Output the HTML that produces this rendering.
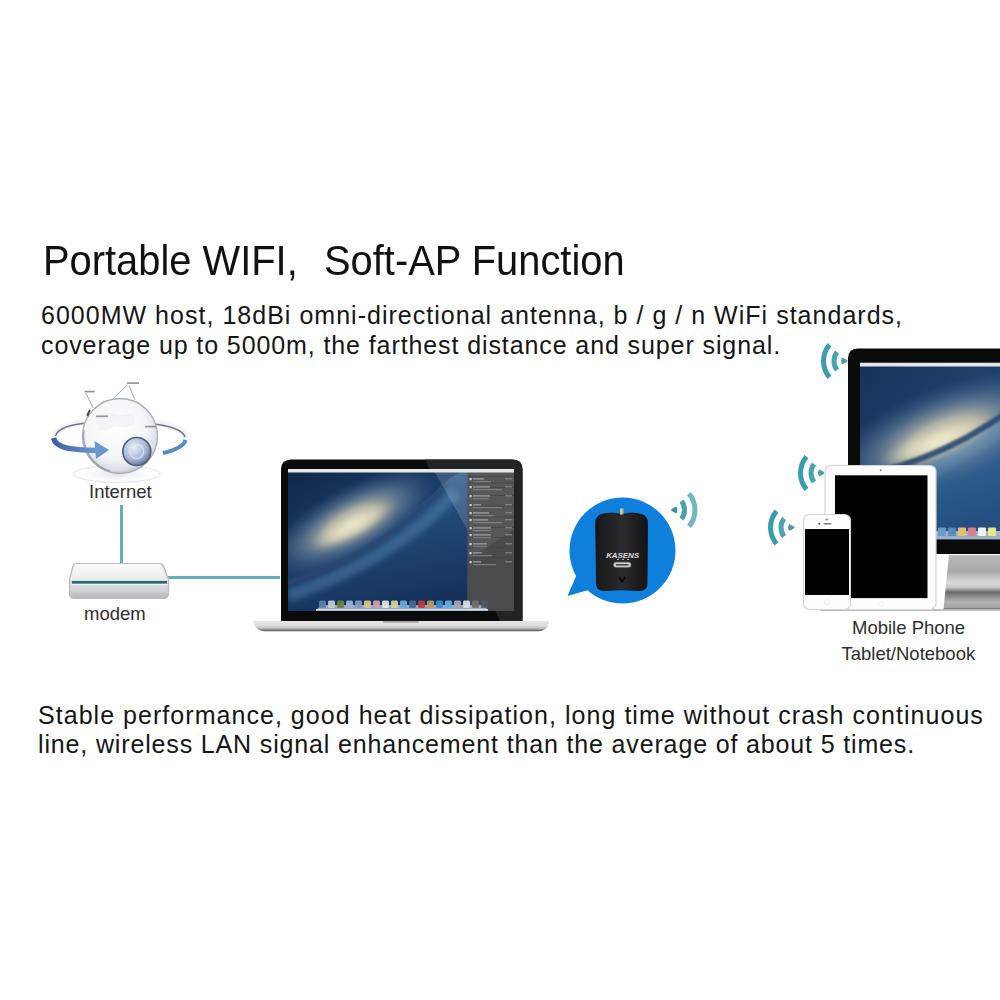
<!DOCTYPE html>
<html><head><meta charset="utf-8">
<style>
html,body{margin:0;padding:0;background:#fff;}
body{width:1000px;height:1000px;position:relative;overflow:hidden;font-family:"Liberation Sans",sans-serif;}
.a{position:absolute;white-space:pre;}
.title{font-size:43px;color:#111;line-height:1;transform:scaleX(0.927);transform-origin:0 0;}
.body{font-size:25px;color:#151515;letter-spacing:0.95px;line-height:1;}
.lab{font-size:18.5px;color:#2e2e2e;line-height:1;}
.line{position:absolute;background:#62aebb;}
svg{position:absolute;overflow:visible;}
</style></head>
<body>
<div class="a title" style="left:43px;top:239px">Portable WIFI,</div>
<div class="a title" style="left:324px;top:239px">Soft-AP Function</div>
<div class="a body" style="left:41px;top:303px;letter-spacing:1.02px">6000MW host, 18dBi omni-directional antenna, b / g / n WiFi standards,</div>
<div class="a body" style="left:41px;top:333px;letter-spacing:0.9px">coverage up to 5000m, the farthest distance and super signal.</div>
<div class="a body" style="left:38px;top:703px;letter-spacing:1.04px">Stable performance, good heat dissipation, long time without crash continuous</div>
<div class="a body" style="left:38px;top:732px;letter-spacing:0.85px">line, wireless LAN signal enhancement than the average of about 5 times.</div>

<!-- lines -->
<div class="line" style="left:120px;top:505px;width:3px;height:60px"></div>
<div class="line" style="left:168px;top:576px;width:112px;height:3px"></div>

<!-- GLOBE -->
<svg style="left:0;top:0" width="1000" height="1000" viewBox="0 0 1000 1000">
  <defs>
    <radialGradient id="gsph" cx="0.45" cy="0.4" r="0.62">
      <stop offset="0" stop-color="#ffffff"/>
      <stop offset="0.65" stop-color="#f3f5f8"/>
      <stop offset="0.9" stop-color="#dadee5"/>
      <stop offset="1" stop-color="#b9bfc8"/>
    </radialGradient>
    <linearGradient id="gring" x1="0" y1="0" x2="1" y2="0">
      <stop offset="0" stop-color="#3f5f9e"/>
      <stop offset="0.6" stop-color="#5c83bd"/>
      <stop offset="1" stop-color="#6f9acc"/>
    </linearGradient>
    <radialGradient id="ge" cx="0.4" cy="0.35" r="0.7">
      <stop offset="0" stop-color="#e8eef8"/>
      <stop offset="0.6" stop-color="#a9bad6"/>
      <stop offset="1" stop-color="#5d7096"/>
    </radialGradient>
    <radialGradient id="gshad" cx="0.5" cy="0.5" r="0.5">
      <stop offset="0" stop-color="#dfe3e8"/>
      <stop offset="1" stop-color="#ffffff" stop-opacity="0"/>
    </radialGradient>
  </defs>
  <ellipse cx="117" cy="474" rx="46" ry="10" fill="url(#gshad)"/>
  <ellipse cx="117" cy="474" rx="43" ry="8.5" fill="none" stroke="#e8ebef" stroke-width="1.5"/>
  <!-- ring back -->
  <path d="M54 439 C 56 428, 72 423, 90 422" fill="none" stroke="#f1f3f6" stroke-width="6"/>
  <path d="M55.5 436 C 58 428, 72 424, 90 423" fill="none" stroke="#5c636c" stroke-width="1.6" opacity="0.85"/>
  <path d="M152 423 C 168 424, 184 429, 186 439" fill="none" stroke="#f1f3f6" stroke-width="6"/>
  <path d="M152 424 C 168 425, 183 430, 185 437" fill="none" stroke="#5c636c" stroke-width="1.6" opacity="0.85"/>
  <circle cx="120" cy="436" r="37.5" fill="url(#gsph)" stroke="#a9aeb5" stroke-width="1.3"/>
  <path d="M84 430 A37 37 0 0 0 110 471" fill="none" stroke="#6a717b" stroke-width="1.2" opacity="0.6"/>
  <path d="M95 418 q10 -8 20 -4 q8 3 16 -1 q6 6 2 12 q-9 4 -18 1 q-8 6 -16 4 z" fill="#e9ecf1" opacity="0.45"/>
  <!-- antenna lines -->
  <path d="M86 393 L93 408" stroke="#9a9ea4" stroke-width="0.9" fill="none"/>
  <path d="M114 397.5 L127.5 385 M129 385.5 L135 400" stroke="#9a9ea4" stroke-width="0.9" fill="none"/>
  <rect x="84.5" y="390.8" width="10" height="1.6" fill="#6f7378" opacity="0.8"/>
  <rect x="127" y="382.3" width="12" height="1.6" fill="#6f7378" opacity="0.8"/>
  <rect x="96" y="415.5" width="12" height="1.6" fill="#6f7378" opacity="0.75"/>
  <rect x="145" y="425.8" width="11" height="1.6" fill="#6f7378" opacity="0.75"/>
  <path d="M90 410 Q 88 413 87.5 416" stroke="#45494f" stroke-width="2" fill="none"/>
  <!-- ring front -->
  <path d="M53.5 438 C 56 449, 74 450, 97 450.5" fill="none" stroke="url(#gring)" stroke-width="5.5"/>
  <path d="M94.5 441 L109 450 L96 459 z" fill="#6d98cc"/>
  <path d="M163 453 C 176 450, 184 446, 185.5 440" fill="none" stroke="#5b89c0" stroke-width="4"/>
  <circle cx="136.8" cy="451.5" r="14" fill="url(#ge)" stroke="#4f5f88" stroke-width="1.6"/>
  <circle cx="136.8" cy="451.5" r="7" fill="none" stroke="#dfe6f2" stroke-width="1.4" opacity="0.8"/>
  </svg>

<!-- DEVICES -->
<svg style="left:0;top:0" width="1000" height="1000" viewBox="0 0 1000 1000">
  <defs>
    <linearGradient id="mtop" x1="0" y1="0" x2="0" y2="1">
      <stop offset="0" stop-color="#fbfbfb"/><stop offset="1" stop-color="#e9eaec"/>
    </linearGradient>
    <linearGradient id="mfront" x1="0" y1="0" x2="0" y2="1">
      <stop offset="0" stop-color="#e4e5e8"/><stop offset="0.7" stop-color="#d7d8dc"/><stop offset="1" stop-color="#b5b6ba"/>
    </linearGradient>
    <linearGradient id="lbase" x1="0" y1="0" x2="0" y2="1">
      <stop offset="0" stop-color="#e6e6e6"/><stop offset="0.45" stop-color="#dcdcdc"/><stop offset="0.72" stop-color="#bdbdbd"/><stop offset="0.88" stop-color="#777"/><stop offset="1" stop-color="#5c5c5c"/>
    </linearGradient>
    <linearGradient id="wallbg" x1="0" y1="0" x2="1" y2="1">
      <stop offset="0" stop-color="#102848"/><stop offset="0.45" stop-color="#1b406e"/><stop offset="1" stop-color="#22497a"/>
    </linearGradient>
    <radialGradient id="galaxy" cx="0.5" cy="0.5" r="0.5">
      <stop offset="0" stop-color="#dcd8c0"/><stop offset="0.3" stop-color="#bdbcaa" stop-opacity="0.9"/><stop offset="0.62" stop-color="#6f88a0" stop-opacity="0.55"/><stop offset="1" stop-color="#3d5b80" stop-opacity="0"/>
    </radialGradient>
    <linearGradient id="sea" x1="0" y1="0" x2="0.3" y2="1">
      <stop offset="0" stop-color="#416e9c"/><stop offset="0.35" stop-color="#24507f"/><stop offset="1" stop-color="#16325c"/>
    </linearGradient>
    <linearGradient id="stand" x1="0" y1="0" x2="0" y2="1">
      <stop offset="0" stop-color="#b8b8b8"/><stop offset="0.3" stop-color="#a9a9aa"/><stop offset="0.52" stop-color="#d9d9da"/><stop offset="0.6" stop-color="#c6c6c6"/><stop offset="0.69" stop-color="#6a6a6b"/><stop offset="0.77" stop-color="#8c8c8c"/><stop offset="0.87" stop-color="#b3b3b3"/><stop offset="0.97" stop-color="#a5a5a5"/><stop offset="1" stop-color="#6a6a6a"/>
    </linearGradient>
    <linearGradient id="adapter" x1="0" y1="0" x2="1" y2="0">
      <stop offset="0" stop-color="#18181a"/><stop offset="0.5" stop-color="#2b2b2e"/><stop offset="1" stop-color="#151517"/>
    </linearGradient>
    <radialGradient id="core" cx="0.5" cy="0.5" r="0.5">
      <stop offset="0" stop-color="#f4eed2"/><stop offset="0.5" stop-color="#e3dcbc" stop-opacity="0.8"/><stop offset="1" stop-color="#c8c3a8" stop-opacity="0"/>
    </radialGradient>
    <filter id="blur2" x="-30%" y="-30%" width="160%" height="160%"><feGaussianBlur stdDeviation="3"/></filter>
    <filter id="blur1" x="-20%" y="-20%" width="140%" height="140%"><feGaussianBlur stdDeviation="1.2"/></filter>
    <clipPath id="lscr"><rect x="288" y="469" width="226" height="142"/></clipPath>
    <linearGradient id="sea2" x1="0" y1="0" x2="0.3" y2="1">
      <stop offset="0" stop-color="#5282b2"/><stop offset="0.4" stop-color="#346595"/><stop offset="1" stop-color="#244f80"/>
    </linearGradient>
    <linearGradient id="wallbg2" x1="0" y1="0" x2="1" y2="1">
      <stop offset="0" stop-color="#163259"/><stop offset="0.5" stop-color="#1e426f"/><stop offset="1" stop-color="#25507f"/>
    </linearGradient>
    <clipPath id="iscr"><rect x="860" y="362.5" width="140" height="177"/></clipPath>
    <symbol id="wifi" overflow="visible">
      <path d="M-19.5 -16.4 A25.5 25.5 0 0 0 -19.5 16.4" fill="none" stroke="#3b9dab" stroke-width="5"/>
      <path d="M-12 -9 A15 15 0 0 0 -12 9" fill="none" stroke="#4aa2af" stroke-width="5"/>
      <path d="M-6.5 -2.6 Q-2 -0.5 -2 0 Q-2 0.5 -6.5 2.6 Q-8.2 0 -6.5 -2.6z" fill="#4a9ca6" stroke="#4a9ca6" stroke-width="1.2" stroke-linejoin="round"/>
    </symbol>
    <symbol id="wifi2" overflow="visible">
      <path d="M-19.5 -16.4 A25.5 25.5 0 0 0 -19.5 16.4" fill="none" stroke="#72b6bf" stroke-width="5"/>
      <path d="M-12 -9 A15 15 0 0 0 -12 9" fill="none" stroke="#4c9fac" stroke-width="5"/>
      <path d="M-6.5 -2.6 Q-2 -0.5 -2 0 Q-2 0.5 -6.5 2.6 Q-8.2 0 -6.5 -2.6z" fill="#3e8f99" stroke="#3e8f99" stroke-width="1.2" stroke-linejoin="round"/>
    </symbol>
  </defs>

  <!-- MODEM -->
  <path d="M75 563.5 L160 563.5 Q162.5 563.5 163.5 566 L168.5 579 L168.5 593 Q168.5 598.5 163 598.5 L75 598.5 Q69.5 598.5 69.5 593 L69.5 579 L73 566 Q73.5 563.5 75 563.5Z" fill="url(#mfront)" stroke="#b9babd" stroke-width="1.2"/>
  <path d="M75 564 L160 564 L168 580 L70 580 Z" fill="url(#mtop)"/>
  <rect x="72" y="581" width="95" height="2.6" fill="#2a6f70"/>
  <rect x="71" y="584" width="97" height="1" fill="#f0f2f2"/>

  <!-- LAPTOP -->
  <path d="M253 621 L549 621 L548.5 624.5 Q547 630 539 631.3 L264 631.3 Q256 630 254 624.5 Z" fill="url(#lbase)"/>
  <rect x="383" y="621" width="36" height="1.8" rx="0.8" fill="#a5a5a5"/>
  <path d="M291 459.5 L512.5 459.5 Q522.5 459.5 522.5 469.5 L522.5 621 L281 621 L281 469.5 Q281 459.5 291 459.5Z" fill="#0b0b0b"/>
  <path d="M425 459.5 L512.5 459.5 Q522.5 459.5 522.5 469.5 L522.5 621 L500 621 Z" fill="#262628" opacity="0.9"/>
  <g clip-path="url(#lscr)">
    <rect x="288" y="469" width="226" height="142" fill="url(#wallbg)"/>
    <path d="M288 611 L288 578 Q348 558 394 526 Q425 503 450 478 L467 469 L514 469 L514 611Z" fill="url(#sea)"/>
    <ellipse cx="352" cy="522" rx="95" ry="36" transform="rotate(-28 352 522)" fill="url(#galaxy)"/>
    <ellipse cx="352" cy="526" rx="46" ry="11" transform="rotate(-28 352 526)" fill="url(#core)" filter="url(#blur2)"/>
    <path d="M288 596 Q352 574 404 538 Q436 514 456 492" fill="none" stroke="#5584b2" stroke-width="12" opacity="0.5" filter="url(#blur2)"/>
    <path d="M288 583 Q350 562 396 529 Q426 506 447 483" fill="none" stroke="#2a4670" stroke-width="5" opacity="0.9" filter="url(#blur1)"/>
    <path d="M433 469 L467.5 469 L467.5 530 Z" fill="#ffffff" opacity="0.16"/>
    <rect x="467.5" y="472" width="46.5" height="139" fill="#56575b"/>
    <path d="M467.5 560 L514 530 L514 611 L467.5 611Z" fill="#4a4b4f"/>
    <rect x="468" y="476" width="46" height="0.9" fill="#46474b"/>
    <rect x="468" y="482.5" width="46" height="0.9" fill="#46474b"/>
    <rect x="468" y="487" width="46" height="0.9" fill="#46474b"/>
    <rect x="468" y="495" width="46" height="0.9" fill="#46474b"/>
    <rect x="468" y="505.5" width="46" height="0.9" fill="#46474b"/>
    <rect x="468" y="516.5" width="46" height="0.9" fill="#46474b"/>
    <rect x="468" y="527" width="46" height="0.9" fill="#46474b"/>
    <rect x="468" y="537" width="46" height="0.9" fill="#46474b"/>
    <rect x="468" y="547" width="46" height="0.9" fill="#46474b"/>
    <rect x="468" y="557" width="46" height="0.9" fill="#46474b"/>
    <rect x="469.5" y="478" width="2.2" height="2.2" fill="#c9cacd"/>
    <rect x="473" y="478.3" width="11" height="1.2" fill="#a3a4a8"/>
    <rect x="505" y="478.3" width="7" height="1.0" fill="#8e8f93"/>
    <rect x="473" y="481.2" width="18" height="1.0" fill="#86878b"/>
    <rect x="469.5" y="486" width="2.2" height="2.2" fill="#c9cacd"/>
    <rect x="473" y="486.3" width="17" height="1.2" fill="#a3a4a8"/>
    <rect x="505" y="486.3" width="7" height="1.0" fill="#8e8f93"/>
    <rect x="473" y="489.2" width="29" height="1.0" fill="#86878b"/>
    <rect x="469.5" y="495" width="2.2" height="2.2" fill="#c9cacd"/>
    <rect x="473" y="495.3" width="17" height="1.2" fill="#a3a4a8"/>
    <rect x="505" y="495.3" width="7" height="1.0" fill="#8e8f93"/>
    <rect x="473" y="498.2" width="16" height="1.0" fill="#86878b"/>
    <rect x="469.5" y="504" width="2.2" height="2.2" fill="#c9cacd"/>
    <rect x="473" y="504.3" width="8" height="1.2" fill="#a3a4a8"/>
    <rect x="505" y="504.3" width="7" height="1.0" fill="#8e8f93"/>
    <rect x="473" y="507.2" width="29" height="1.0" fill="#86878b"/>
    <rect x="469.5" y="512" width="2.2" height="2.2" fill="#c9cacd"/>
    <rect x="473" y="512.3" width="16" height="1.2" fill="#a3a4a8"/>
    <rect x="505" y="512.3" width="7" height="1.0" fill="#8e8f93"/>
    <rect x="473" y="515.2" width="21" height="1.0" fill="#86878b"/>
    <rect x="469.5" y="519" width="2.2" height="2.2" fill="#c9cacd"/>
    <rect x="473" y="519.3" width="15" height="1.2" fill="#a3a4a8"/>
    <rect x="505" y="519.3" width="7" height="1.0" fill="#8e8f93"/>
    <rect x="473" y="522.2" width="29" height="1.0" fill="#86878b"/>
    <rect x="469.5" y="527" width="2.2" height="2.2" fill="#c9cacd"/>
    <rect x="473" y="527.3" width="18" height="1.2" fill="#a3a4a8"/>
    <rect x="505" y="527.3" width="7" height="1.0" fill="#8e8f93"/>
    <rect x="473" y="530.2" width="18" height="1.0" fill="#86878b"/>
    <rect x="469.5" y="534" width="2.2" height="2.2" fill="#c9cacd"/>
    <rect x="473" y="534.3" width="18" height="1.2" fill="#a3a4a8"/>
    <rect x="505" y="534.3" width="7" height="1.0" fill="#8e8f93"/>
    <rect x="473" y="537.2" width="18" height="1.0" fill="#86878b"/>
    <rect x="469.5" y="543" width="2.2" height="2.2" fill="#c9cacd"/>
    <rect x="473" y="543.3" width="14" height="1.2" fill="#a3a4a8"/>
    <rect x="505" y="543.3" width="7" height="1.0" fill="#8e8f93"/>
    <rect x="473" y="546.2" width="14" height="1.0" fill="#86878b"/>
    <rect x="469.5" y="552" width="2.2" height="2.2" fill="#c9cacd"/>
    <rect x="473" y="552.3" width="9" height="1.2" fill="#a3a4a8"/>
    <rect x="505" y="552.3" width="7" height="1.0" fill="#8e8f93"/>
    <rect x="473" y="555.2" width="19" height="1.0" fill="#86878b"/>
    <rect x="469.5" y="561" width="2.2" height="2.2" fill="#c9cacd"/>
    <rect x="473" y="561.3" width="8" height="1.2" fill="#a3a4a8"/>
    <rect x="505" y="561.3" width="7" height="1.0" fill="#8e8f93"/>
    <rect x="473" y="564.2" width="23" height="1.0" fill="#86878b"/>
    <rect x="288" y="469" width="226" height="3.5" fill="#e9e9ea"/>
    <path d="M321 605 L484 605 L488.5 611 L315.5 611Z" fill="#aebdcf" opacity="0.85"/>
    <rect x="316" y="609" width="172" height="1.2" fill="#dfe6ee"/>
    <g opacity="0.92"><rect x="319" y="600.5" width="7" height="7.5" rx="1.5" fill="#5a7fb0"/><rect x="328" y="600.5" width="7" height="7.5" rx="1.5" fill="#c8ccd0"/><rect x="337" y="600.5" width="7" height="7.5" rx="1.5" fill="#6f8040"/><rect x="346" y="600.5" width="7" height="7.5" rx="1.5" fill="#9ab4d0"/><rect x="355" y="600.5" width="7" height="7.5" rx="1.5" fill="#7e9cc0"/><rect x="364" y="600.5" width="7" height="7.5" rx="1.5" fill="#d8c890"/><rect x="373" y="600.5" width="7" height="7.5" rx="1.5" fill="#d8a0a8"/><rect x="382" y="600.5" width="7" height="7.5" rx="1.5" fill="#e8e4e0"/><rect x="391" y="600.5" width="7" height="7.5" rx="1.5" fill="#d8d490"/><rect x="400" y="600.5" width="7" height="7.5" rx="1.5" fill="#6aa8d8"/><rect x="409" y="600.5" width="7" height="7.5" rx="1.5" fill="#4a6a90"/><rect x="418" y="600.5" width="7" height="7.5" rx="1.5" fill="#c03838"/><rect x="427" y="600.5" width="7" height="7.5" rx="1.5" fill="#b89860"/><rect x="436" y="600.5" width="7" height="7.5" rx="1.5" fill="#3a88d0"/><rect x="445" y="600.5" width="7" height="7.5" rx="1.5" fill="#60b0e0"/><rect x="454" y="600.5" width="7" height="7.5" rx="1.5" fill="#a8a8b0"/><rect x="463" y="600.5" width="7" height="7.5" rx="1.5" fill="#e0e0e0"/><rect x="472" y="600.5" width="7" height="7.5" rx="1.5" fill="#707070"/><rect x="481" y="600.5" width="7" height="7.5" rx="1.5" fill="#505860"/></g>
  </g>

  <!-- BUBBLE -->
  <circle cx="622.5" cy="550.5" r="53" fill="#0e80db"/>
  <path d="M577 574 L567.5 596 L592 589 Z" fill="#0e80db"/>
  <path d="M601.5 514.5 Q612 512 618 514 L626 514 Q631 512 641.5 514.5 Q647.5 516 647.5 523 L647 584 Q647 590 640 590.5 Q622 589 603 590.5 Q596.5 590 596.5 584 L595.7 523 Q595.7 516 601.5 514.5Z" fill="url(#adapter)" stroke="#0e0e10" stroke-width="0.8"/>
  <rect x="620" y="508.5" width="3.5" height="6" fill="#c4b27a"/>
  <rect x="620.8" y="508.5" width="1" height="6" fill="#e8dcae"/>
  <text x="622.5" y="557.5" font-family="Liberation Sans" font-style="italic" font-weight="bold" font-size="8" fill="#dcdcdc" text-anchor="middle" letter-spacing="-0.1">KASENS</text>
  <rect x="617" y="559" width="2" height="1" fill="#bbb"/><rect x="622" y="559" width="2" height="1" fill="#bbb"/><rect x="627" y="559" width="2" height="1" fill="#bbb"/>
  <rect x="613.5" y="562.3" width="17.5" height="5" rx="2.5" fill="#d2d2d2" stroke="#8a8a8a" stroke-width="0.6"/>
  <rect x="616" y="564" width="12.5" height="1.6" fill="#4a4a4a"/>
  <path d="M619 577 L622 582 L625 577" fill="none" stroke="#0a0a0a" stroke-width="1.6"/>

  <!-- WIFI -->
  <use href="#wifi2" transform="translate(669.5 510) scale(-1 1)"/>
  <use href="#wifi" transform="translate(849 361)"/>
  <use href="#wifi" transform="translate(826 473)"/>
  <use href="#wifi" transform="translate(796 527.5)"/>

  <!-- iMAC -->
  <path d="M858 348.5 L1010 348.5 L1010 554 L848 554 L848 358.5 Q848 348.5 858 348.5Z" fill="#0a0a0a"/>
  <g clip-path="url(#iscr)">
    <rect x="860" y="362.5" width="140" height="177" fill="url(#wallbg2)"/>
    <path d="M860 540 L860 505 Q920 478 962 448 Q985 430 1000 418 L1000 540Z" fill="url(#sea2)"/>
    <ellipse cx="945" cy="436" rx="125" ry="50" transform="rotate(-21 945 436)" fill="url(#galaxy)"/>
    <ellipse cx="938" cy="442" rx="62" ry="16" transform="rotate(-21 938 442)" fill="url(#core)" filter="url(#blur2)"/>
    <path d="M870 495 Q925 476 968 448 Q990 434 1005 424" fill="none" stroke="#5584b2" stroke-width="14" opacity="0.5" filter="url(#blur2)"/>
    <path d="M880 472 Q925 460 966 438 Q990 424 1005 414" fill="none" stroke="#2a4670" stroke-width="6" opacity="0.9" filter="url(#blur1)"/>
    <rect x="860" y="362.5" width="140" height="4" fill="#e6e6e6"/>
    <path d="M935 531 L1000 531 L1000 539.5 L931 539.5Z" fill="#c9d3de" opacity="0.75"/>
    <rect x="938" y="527.5" width="8" height="8.5" rx="1" fill="#6a9ac8"/>
    <rect x="948" y="527.5" width="8" height="8.5" rx="1" fill="#5a8ab8"/>
    <rect x="958" y="527.5" width="8" height="8.5" rx="1" fill="#e3c074"/>
    <rect x="968" y="527.5" width="8" height="8.5" rx="1" fill="#d8808a"/>
    <rect x="978" y="527.5" width="8" height="8.5" rx="1" fill="#f0f0f0"/>
    <rect x="988" y="527.5" width="8" height="8.5" rx="1" fill="#ece48a"/>
  </g>
  <path d="M949 555 L1000 555 L1000 609 L943.5 609 Z" fill="url(#stand)"/>
  
  <rect x="820" y="609" width="180" height="2" fill="#bdbdbd"/>

  <!-- iPAD -->
  <rect x="825" y="465.5" width="111" height="144" rx="6" fill="#fdfdfd" stroke="#d6d6d6" stroke-width="1.2"/>
  <rect x="835" y="475.3" width="92.5" height="122.8" fill="#000"/>
  <circle cx="880.7" cy="470.3" r="1" fill="#888"/>
  <circle cx="881" cy="603.8" r="2.6" fill="none" stroke="#ececec" stroke-width="0.7"/>

  <!-- iPHONE -->
  <rect x="803.5" y="514.5" width="47" height="95" rx="6" fill="#fdfdfd" stroke="#d2d2d2" stroke-width="1.1"/>
  <rect x="805" y="529" width="44" height="66" fill="#000"/>
  <rect x="823.5" y="523" width="8" height="1.6" rx="0.8" fill="#7a7a7a"/><ellipse cx="826.8" cy="519.5" rx="1.6" ry="0.9" fill="#9a9a9a"/>
  <circle cx="819.2" cy="523.7" r="1" fill="#555"/>
  <circle cx="827" cy="602" r="2.6" fill="none" stroke="#e8e8e8" stroke-width="0.7"/>
</svg>

<div class="a lab" style="left:89px;top:483px">Internet</div>
<div class="a lab" style="left:84px;top:604.5px">modem</div>
<div class="a lab" style="left:852px;top:619px">Mobile Phone</div>
<div class="a lab" style="left:841.5px;top:644.5px">Tablet/Notebook</div>

</body></html>
